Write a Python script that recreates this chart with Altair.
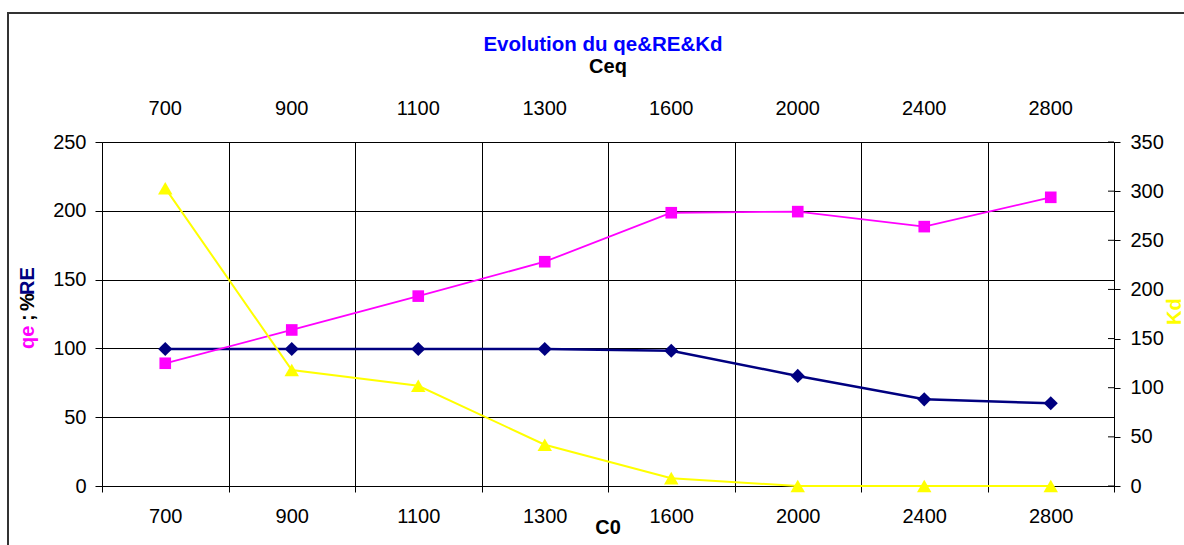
import json
import altair as alt
import pandas as pd

# Category axes (initial concentration C0, equilibrium concentration Ceq)
c0 = ["700", "900", "1100", "1300", "1600", "2000", "2400", "2800"]
ceq = ["700", "900", "1100", "1300", "1600", "2000", "2400", "2800"]

# Series
re_pct = [99.6, 99.6, 99.6, 99.6, 98.3, 80.0, 63.0, 60.1]   # %RE (left axis)
qe = [89.2, 113.4, 138.0, 163.0, 198.6, 199.4, 188.5, 209.8]  # qe (left axis)
kd = [303, 118, 102, 42, 8, 0, 0, 0]                          # Kd (right axis)

left_ticks = [0, 50, 100, 150, 200, 250]
kd_ticks = [0, 50, 100, 150, 200, 250, 300, 350]

W, H = 1012, 344
LEFT, TOP = 102, 142
FONT = "Liberation Sans"
NAVY, MAGENTA, YELLOW = "#000080", "#FF00FF", "#FFFF00"

df = pd.DataFrame({"C0": c0, "RE": re_pct, "qe": qe, "Kd": kd})
df_kd_ticks = pd.DataFrame({"tick": kd_ticks})

x_scale = alt.Scale(type="band", domain=c0, paddingInner=0, paddingOuter=0)

x_bottom = alt.X(
    "C0:N", scale=x_scale, bandPosition=0.5, sort=c0,
    axis=alt.Axis(
        orient="bottom", title=None, grid=True, gridColor="#000000", gridOpacity=1,
        gridWidth=1, tickBand="extent", tickSize=6, tickColor="#000000", tickWidth=1,
        domainColor="#000000", domainWidth=1, labelFont=FONT, labelFontSize=20,
        labelColor="#000000", labelAngle=0, labelPadding=30, labelBaseline="alphabetic",
        labelOverlap=False,
    ),
)

ceq_expr = f"{json.dumps(ceq)}[indexof({json.dumps(c0)}, datum.value)]"
x_top = alt.X(
    "C0:N", scale=x_scale, bandPosition=0.5, sort=c0,
    axis=alt.Axis(
        orient="top", title=None, grid=False, ticks=False, tickSize=0, domain=False,
        labelFont=FONT, labelFontSize=20, labelColor="#000000", labelAngle=0,
        labelPadding=28, labelBaseline="alphabetic", labelOverlap=False,
        labelExpr=ceq_expr,
    ),
)

left_axis = alt.Axis(
    orient="left", title=None, values=left_ticks, grid=True, gridColor="#000000",
    gridOpacity=1, gridWidth=1, tickSize=7, tickColor="#000000", domainColor="#000000",
    labelFont=FONT, labelFontSize=20, labelColor="#000000", labelPadding=9,
)
left_scale = alt.Scale(domain=[0, 250], nice=False, zero=True)

right_axis = alt.Axis(
    orient="right", title=None, values=kd_ticks, grid=False, tickSize=6,
    tickColor="#000000", domainColor="#000000", labelFont=FONT, labelFontSize=20,
    labelColor="#000000", labelPadding=10,
)
right_scale = alt.Scale(domain=[0, 350], nice=False, zero=True)

base = alt.Chart(df)

re_line = base.mark_line(color=NAVY, strokeWidth=2.5).encode(
    x=x_bottom, y=alt.Y("RE:Q", scale=left_scale, axis=left_axis))
re_pts = base.mark_point(shape="diamond", filled=True, size=200, color=NAVY, opacity=1).encode(
    x=x_bottom, y=alt.Y("RE:Q", scale=left_scale, axis=left_axis))
qe_line = base.mark_line(color=MAGENTA, strokeWidth=1.8).encode(
    x=x_bottom, y=alt.Y("qe:Q", scale=left_scale, axis=left_axis))
qe_pts = base.mark_point(shape="square", filled=True, size=135, color=MAGENTA, opacity=1).encode(
    x=x_bottom, y=alt.Y("qe:Q", scale=left_scale, axis=left_axis))

left_group = alt.layer(re_line, re_pts, qe_line, qe_pts)

kd_cross = alt.Chart(df_kd_ticks).mark_rule(color="#000000", strokeWidth=1).encode(
    x=alt.value(W - 6), x2=alt.value(W),
    y=alt.Y("tick:Q", scale=right_scale, axis=right_axis))
kd_line = base.mark_line(color=YELLOW, strokeWidth=2).encode(
    x=x_top, y=alt.Y("Kd:Q", scale=right_scale, axis=right_axis))
kd_pts = base.mark_point(shape="triangle-up", filled=True, size=210, color=YELLOW, opacity=1).encode(
    x=x_top, y=alt.Y("Kd:Q", scale=right_scale, axis=right_axis))

right_group = alt.layer(kd_cross, kd_line, kd_pts)


def label(text, x, y, color, size=20, angle=0, align="center", weight="bold"):
    """Free text placed in page pixels."""
    return alt.Chart(pd.DataFrame({"t": [text]})).mark_text(
        font=FONT, fontSize=size, fontWeight=weight, color=color, angle=angle,
        align=align, baseline="alphabetic",
    ).encode(x=alt.value(x - LEFT), y=alt.value(y - TOP), text="t:N")


def vlabel(text, x, y, color, size=20):
    """Vertical text reading bottom to top, starting at y."""
    return alt.Chart(pd.DataFrame({"t": [text]})).mark_text(
        font=FONT, fontSize=size, fontWeight="bold", color=color, angle=270,
        align="left", baseline="middle",
    ).encode(x=alt.value(x - LEFT), y=alt.value(y - TOP), text="t:N")


frame = alt.Chart(pd.DataFrame({"t": [0]})).mark_rect(
    fillOpacity=0, stroke="#333333", strokeWidth=2
).encode(x=alt.value(8 - LEFT), x2=alt.value(1200 - LEFT),
         y=alt.value(13 - TOP), y2=alt.value(560 - TOP))

texts = [
    label("Evolution du qe&RE&Kd", 603, 51, "#0000FF", size=20.5),
    label("Ceq", 608, 73, "#000000"),
    label("C0", 608, 534, "#000000"),
    vlabel("qe", 28, 349, MAGENTA),
    vlabel(";", 28, 321, "#000000"),
    vlabel("%", 28, 311, "#000000"),
    vlabel("RE", 28, 295, NAVY),
    vlabel("Kd", 1175, 325, YELLOW),
]

chart = alt.layer(frame, left_group, right_group, *texts).resolve_scale(
    y="independent"
).resolve_axis(
    x="independent", y="independent"
).properties(
    width=W, height=H,
    autosize=alt.AutoSizeParams(type="none"),
    padding={"left": LEFT, "top": TOP, "right": 1184 - LEFT - W, "bottom": 545 - TOP - H},
    background="#FFFFFF",
).configure_view(stroke=None)

chart.save("out.html", embed_options={"renderer": "svg", "actions": False})
